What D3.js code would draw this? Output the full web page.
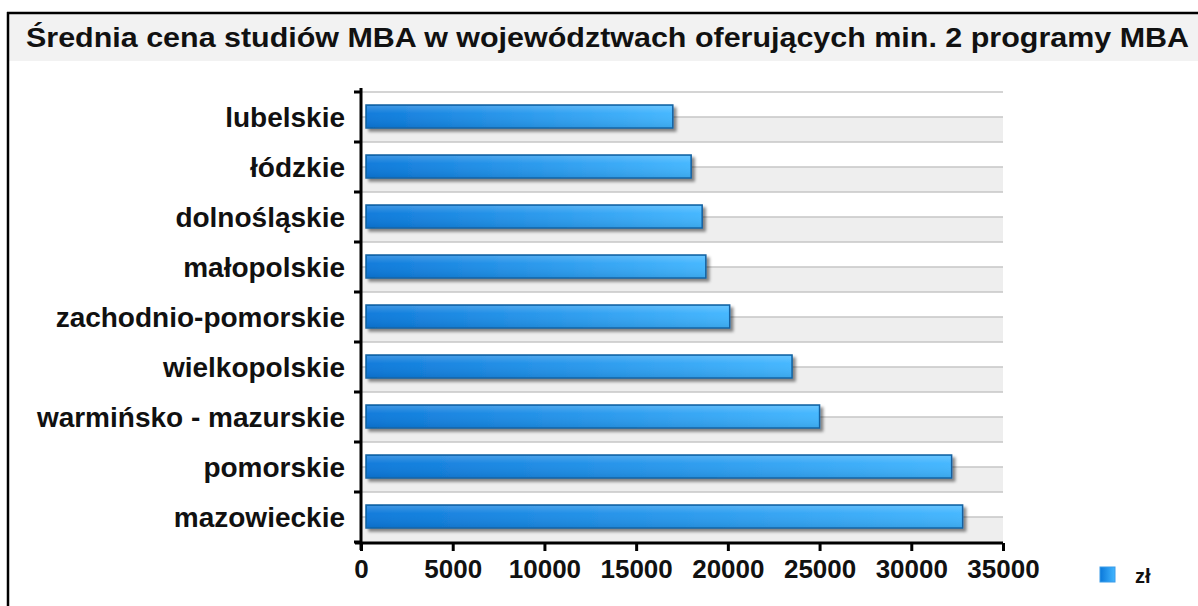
<!DOCTYPE html>
<html>
<head>
<meta charset="utf-8">
<script src="https://cdn.jsdelivr.net/npm/d3@7"></script>
<style>
  html, body { margin: 0; padding: 0; background: #fff; overflow: hidden; }
  svg { display: block; font-family: "Liberation Sans", Arial, sans-serif; }
</style>
</head>
<body>
<svg id="chart" width="1198" height="606"></svg>
<script>
// chart data
const title = 'Średnia cena studiów MBA w województwach oferujących min. 2 programy MBA';
const regions = ['lubelskie', 'łódzkie', 'dolnośląskie', 'małopolskie', 'zachodnio-pomorskie',
  'wielkopolskie', 'warmińsko - mazurskie', 'pomorskie', 'mazowieckie'];
const prices = [17000, 18000, 18600, 18800, 20100, 23500, 25000, 32200, 32800];
const xTicks = [0, 5000, 10000, 15000, 20000, 25000, 30000, 35000];
const seriesName = 'zł';

const svg = d3.select('#chart');
const cs = {
  pallette: {
    barLeft: '#0a78da',
    barRight: '#42b6ff',
    barStroke: '#15609f',
    grid: '#c6c6c6',
    band: '#eeeeee',
    titleBg: '#f2f2f2',
  },
  x: { left: 361, right: 1003 },
  y: { top: 92, bottom: 542, barHeight: 23 },
};

const defs = svg.append('defs');
const grad = defs.append('linearGradient').attr('id', 'barGrad')
  .attr('x1', 0).attr('x2', 1).attr('y1', 0).attr('y2', 0);
grad.append('stop').attr('offset', '0%').attr('stop-color', cs.pallette.barLeft);
grad.append('stop').attr('offset', '100%').attr('stop-color', cs.pallette.barRight);
const gloss = defs.append('linearGradient').attr('id', 'barGloss')
  .attr('x1', 0).attr('x2', 0).attr('y1', 0).attr('y2', 1);
gloss.append('stop').attr('offset', '0%').attr('stop-color', '#fff').attr('stop-opacity', 0.2);
gloss.append('stop').attr('offset', '35%').attr('stop-color', '#fff').attr('stop-opacity', 0.03);
gloss.append('stop').attr('offset', '100%').attr('stop-color', '#000').attr('stop-opacity', 0.08);
const shadow = defs.append('filter').attr('id', 'shadow')
  .attr('x', '-5%').attr('y', '-30%').attr('width', '115%').attr('height', '180%');
shadow.append('feDropShadow').attr('dx', 3).attr('dy', 3).attr('stdDeviation', 1.8)
  .attr('flood-color', '#000').attr('flood-opacity', 0.45);

// frame (top and left edges visible) + title bar
svg.append('rect').attr('x', 9).attr('y', 14).attr('width', 1189).attr('height', 47)
  .attr('fill', cs.pallette.titleBg);
svg.append('line').attr('x1', 7).attr('x2', 1198).attr('y1', 13).attr('y2', 13)
  .attr('stroke', '#000').attr('stroke-width', 2.5);
svg.append('line').attr('x1', 8).attr('x2', 8).attr('y1', 12).attr('y2', 606)
  .attr('stroke', '#000').attr('stroke-width', 2.5);
svg.append('text').attr('x', 26).attr('y', 47)
  .attr('font-size', 27).attr('font-weight', 'bold').attr('fill', '#111')
  .attr('textLength', 1163).attr('lengthAdjust', 'spacingAndGlyphs')
  .text(title);

// scales
const xScale = d3.scaleLinear().domain([0, 35000]).range([cs.x.left, cs.x.right]);
const yScale = d3.scaleBand().domain(regions).range([cs.y.top, cs.y.bottom]).padding(0);
const bw = yScale.bandwidth();

// background bands + grid
const bg = svg.append('g');
bg.selectAll('rect.band').data(regions).enter().append('rect')
  .attr('x', xScale(0)).attr('width', xScale(35000) - xScale(0))
  .attr('y', d => yScale(d) + bw / 2).attr('height', bw / 2)
  .attr('fill', cs.pallette.band);
const gridYs = [];
regions.forEach((r) => { gridYs.push(yScale(r)); gridYs.push(yScale(r) + bw / 2); });
bg.selectAll('line').data(gridYs).enter().append('line')
  .attr('x1', xScale(0)).attr('x2', xScale(35000))
  .attr('y1', d => d).attr('y2', d => d)
  .attr('stroke', cs.pallette.grid).attr('stroke-width', 1.5);

// bars
const bars = svg.append('g');
const barY = d => yScale(d) + (bw - cs.y.barHeight) / 2 - 0.5;
bars.selectAll('rect.bar').data(regions).enter().append('rect')
  .attr('class', 'bar')
  .attr('x', xScale(0) + 5)
  .attr('y', barY)
  .attr('width', (d, i) => xScale(prices[i]) - xScale(0) - 5)
  .attr('height', cs.y.barHeight)
  .attr('fill', 'url(#barGrad)')
  .attr('stroke', cs.pallette.barStroke).attr('stroke-width', 1.5)
  .attr('filter', 'url(#shadow)');
bars.selectAll('rect.gloss').data(regions).enter().append('rect')
  .attr('class', 'gloss')
  .attr('x', xScale(0) + 6)
  .attr('y', d => barY(d) + 1)
  .attr('width', (d, i) => xScale(prices[i]) - xScale(0) - 7)
  .attr('height', cs.y.barHeight - 2)
  .attr('fill', 'url(#barGloss)');

// axes
const xAxis = d3.axisBottom(xScale).tickValues(xTicks).tickSize(8).tickPadding(9).tickFormat(d3.format('d'));
const gx = svg.append('g').attr('transform', `translate(0,${cs.y.bottom + 1})`).call(xAxis);
gx.select('.domain').attr('d', `M${xScale(0) - 6},0H${xScale(35000)}`).attr('stroke', '#000').attr('stroke-width', 3);
gx.selectAll('.tick line').attr('stroke', '#000').attr('stroke-width', 3);
gx.selectAll('.tick text').attr('fill', '#111').attr('font-size', 26).attr('font-weight', 'bold')
  .attr('font-family', '"Liberation Sans", Arial, sans-serif').attr('dy', '0.7em');

const bounds = regions.map(r => yScale(r)).concat([cs.y.bottom]);
const gy = svg.append('g');
gy.append('line').attr('x1', xScale(0)).attr('x2', xScale(0))
  .attr('y1', cs.y.top - 4).attr('y2', cs.y.bottom + 8)
  .attr('stroke', '#000').attr('stroke-width', 3);
gy.selectAll('line.tick').data(bounds).enter().append('line')
  .attr('class', 'tick')
  .attr('x1', xScale(0) - 7).attr('x2', xScale(0))
  .attr('y1', d => d).attr('y2', d => d)
  .attr('stroke', '#000').attr('stroke-width', 3);
gy.selectAll('text').data(regions).enter().append('text')
  .attr('x', xScale(0) - 16)
  .attr('y', d => yScale(d) + bw / 2)
  .attr('dy', '0.36em')
  .attr('text-anchor', 'end')
  .attr('font-size', 28).attr('font-weight', 'bold').attr('fill', '#111')
  .text(d => d);

// legend
const lg = svg.append('g').attr('transform', 'translate(1100,567)');
lg.append('rect').attr('width', 15).attr('height', 15)
  .attr('fill', 'url(#barGrad)').attr('stroke', '#3a9be8').attr('stroke-width', 1);
lg.append('text').attr('x', 35).attr('y', 16)
  .attr('font-size', 20).attr('font-weight', 'bold').attr('fill', '#111')
  .text(seriesName);
</script>
</body>
</html>
